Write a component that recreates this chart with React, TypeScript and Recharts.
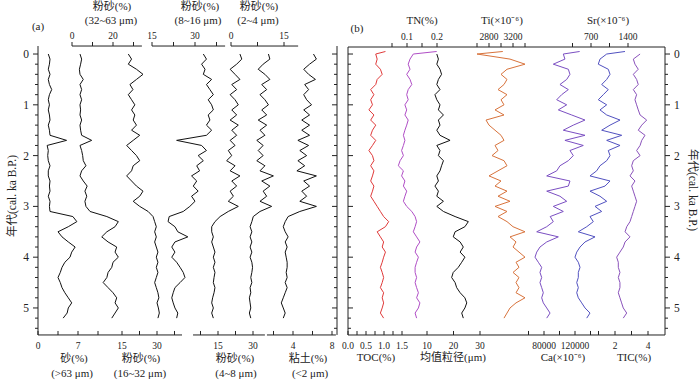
import React from "react";
import { LineChart, Line, XAxis, YAxis, ReferenceLine } from "recharts";

// ages (cal. ka B.P.)
const AGE = [
  -0.05, 0, 0.1, 0.2, 0.3, 0.4, 0.5, 0.6, 0.7, 0.8, 0.9, 1.0, 1.1, 1.2, 1.3, 1.4, 1.5, 1.6, 1.7, 1.8, 1.9,
  2.0, 2.1, 2.2, 2.3, 2.4, 2.5, 2.6, 2.7, 2.8, 2.9, 3.0, 3.1, 3.2, 3.3, 3.4, 3.5, 3.6, 3.7, 3.8, 3.9,
  4.0, 4.1, 4.2, 4.3, 4.4, 4.5, 4.6, 4.7, 4.8, 4.9, 5.0, 5.1, 5.2,
];
const AGE_TICKS = [
  0, 0.2, 0.4, 0.6, 0.8, 1, 1.2, 1.4, 1.6, 1.8, 2, 2.2, 2.4, 2.6, 2.8, 3, 3.2, 3.4, 3.6, 3.8, 4, 4.2,
  4.4, 4.6, 4.8, 5, 5.2, 5.4,
];

// panel (a) grain size fractions (%)
const SAND = [null,
  1.8, 2.1, 2.0, 1.8, 2.1, 1.8, 2.0, 2.4, 2.0, 1.8,
  2.0, 1.8, 2.0, 2.1, 1.8, 2.0, 2.1, 5.0, 1.6, 1.8,
  1.7, 1.8, 2.1, 1.8, 1.8, 2.1, 2.0, 2.1, 1.8, 2.1,
  2.0, 2.1, 6.1, 6.8, 5.3, 3.5, 4.2, 5.3, 6.5, 5.9,
  5.6, 4.7, 4.2, 3.9, 3.5, 3.9, 4.2, 4.7, 5.3, 5.9,
  5.3, 5.1, 4.4];
const SILT_32_63 = [null,
  3.9, 4.7, 4.2, 3.6, 3.9, 5.5, 3.9, 4.7, 3.9, 4.7,
  3.9, 4.2, 3.9, 4.7, 3.9, 4.2, 4.7, 9.6, 3.9, 4.7,
  5.2, 5.5, 6.8, 4.7, 3.9, 5.5, 7.4, 6.3, 7.2, 6.3,
  6.8, 8.8, 17.0, 22.6, 21.0, 17.0, 14.5, 17.6, 21.8, 21.0,
  22.6, 20.0, 19.4, 17.6, 17.0, 15.2, 17.6, 20.0, 21.8, 21.0,
  22.6, 21.0, 19.4];
const SILT_16_32 = [null,
  17.7, 19.1, 17.7, 21.2, 24.0, 21.2, 18.4, 19.7, 17.7, 19.1,
  20.5, 19.1, 20.5, 19.8, 21.2, 19.1, 22.6, 19.8, 17.0, 19.1,
  21.2, 22.6, 19.8, 19.1, 17.0, 19.1, 21.2, 24.0, 22.6, 19.8,
  22.6, 26.2, 28.3, 29.0, 29.7, 29.0, 29.7, 29.0, 29.7, 30.4,
  29.7, 30.4, 29.7, 30.4, 29.7, 29.0, 29.7, 30.4, 30.8, 30.0,
  30.6, 31.0, 30.4];
const SILT_8_16 = [null,
  32.9, 34.0, 32.3, 33.5, 32.9, 35.8, 34.0, 35.2, 36.4, 34.6,
  35.8, 36.4, 34.6, 35.2, 34.0, 35.8, 34.0, 23.6, 32.3, 34.0,
  31.1, 32.9, 30.6, 31.6, 28.8, 30.6, 29.4, 31.1, 28.8, 30.0,
  28.2, 25.9, 21.0, 20.6, 23.0, 24.0, 27.5, 23.0, 21.9, 23.0,
  21.9, 23.6, 24.8, 25.9, 26.5, 24.8, 23.0, 22.4, 21.9, 22.4,
  23.0, 24.0, 23.6];
const SILT_4_8 = [null,
  24.4, 25.2, 23.0, 20.2, 22.3, 24.4, 20.9, 23.0, 20.2, 22.3,
  23.7, 20.9, 23.0, 20.2, 23.7, 20.9, 23.0, 20.2, 22.3, 19.4,
  20.9, 18.7, 22.3, 20.2, 24.4, 20.9, 23.0, 20.2, 21.6, 19.4,
  23.7, 19.4, 15.9, 13.7, 12.3, 12.3, 13.0, 12.3, 13.0, 13.7,
  13.0, 13.7, 13.0, 13.7, 13.3, 13.0, 13.7, 13.3, 12.7, 12.3,
  13.0, 12.3, 13.0];
const SILT_2_4 = [null,
  10.6, 11.0, 9.1, 7.7, 9.6, 11.0, 8.7, 10.1, 8.2, 9.6,
  10.6, 8.7, 10.1, 7.7, 10.1, 8.2, 9.6, 7.3, 9.1, 7.7,
  9.1, 7.3, 9.6, 8.2, 12.0, 8.7, 11.0, 9.1, 10.1, 8.2,
  11.5, 8.2, 6.3, 5.9, 5.4, 5.9, 5.4, 5.9, 5.4, 5.9,
  5.4, 5.9, 6.1, 5.9, 5.6, 5.9, 5.4, 5.6, 5.2, 5.4,
  5.6, 5.2, 5.6];
const CLAY = [null,
  6.1, 6.4, 5.7, 5.1, 5.6, 6.3, 5.2, 5.6, 5.1, 5.4,
  5.9, 5.1, 5.7, 4.9, 5.7, 4.9, 5.7, 4.5, 5.6, 4.7,
  5.4, 4.5, 5.2, 4.4, 6.4, 5.1, 5.7, 4.9, 5.4, 4.7,
  6.4, 4.7, 3.5, 3.2, 3.0, 3.2, 3.5, 3.2, 3.4, 3.2,
  3.3, 3.4, 3.4, 3.3, 3.4, 3.2, 3.4, 3.2, 3.0, 2.8,
  3.0, 3.2, 3.0];

// panel (b) geochemistry
const TOC = [1.04,
  0.77, 0.81, 0.77, 0.90, 0.95, 0.81, 0.77, 0.63, 0.72, 0.63,
  0.68, 0.58, 0.72, 0.63, 0.77, 0.68, 0.63, 0.77, 0.68, 0.58,
  0.68, 0.72, 0.63, 0.72, 0.68, 0.63, 0.72, 0.68, 0.63, 0.72,
  0.81, 0.90, 0.99, 1.13, 1.04, 0.81, 0.90, 0.99, 0.95, 1.04,
  0.99, 0.95, 0.90, 0.95, 0.99, 0.95, 0.90, 0.99, 0.95, 0.99,
  0.95, 0.90, 0.99];
const TN = [0.199,
  0.121, 0.110, 0.104, 0.110, 0.099, 0.110, 0.116, 0.104, 0.099, 0.104,
  0.093, 0.099, 0.093, 0.104, 0.099, 0.093, 0.088, 0.093, 0.088, 0.082,
  0.088, 0.077, 0.071, 0.088, 0.082, 0.093, 0.088, 0.099, 0.093, 0.088,
  0.099, 0.116, 0.127, 0.132, 0.127, 0.121, 0.132, 0.143, 0.132, 0.127,
  0.138, 0.132, 0.127, 0.127, 0.132, 0.127, 0.132, 0.138, 0.132, 0.143,
  0.138, 0.127, 0.132];
const MEAN_GRAIN = [null,
  13.7, 14.3, 13.7, 14.9, 15.5, 14.3, 13.7, 14.9, 13.0, 13.7,
  14.9, 14.3, 16.2, 14.3, 14.9, 13.7, 14.9, 18.7, 13.7, 14.9,
  14.3, 16.2, 15.5, 14.9, 13.7, 14.3, 13.0, 14.3, 13.7, 16.2,
  13.7, 16.2, 20.6, 25.6, 24.3, 20.6, 19.9, 22.5, 23.7, 22.5,
  24.3, 23.1, 21.8, 19.9, 19.3, 20.6, 21.2, 22.5, 24.3, 25.0,
  24.3, 23.1, 23.7];
const TI = [3030,
  2600, 3150, 3400, 3100, 3000, 3100, 3050, 2950, 3100, 3000,
  3050, 2900, 3050, 2750, 2800, 2900, 3000, 3050, 2900, 2950,
  2850, 3050, 3100, 2950, 2800, 3000, 2900, 3100, 2950, 3150,
  2900, 3100, 2950, 3100, 3200, 3400, 3150, 3250, 3200, 3300,
  3400, 3250, 3300, 3200, 3300, 3250, 3300, 3250, 3400, 3250,
  3150, 3100, 3050];
const CA = [126000,
  104900, 107000, 92000, 111400, 113500, 109300, 100600, 111400, 102800, 96400,
  109300, 98500, 115700, 132900, 117800, 104900, 132900, 107000, 130700, 113500,
  117800, 111400, 100600, 96400, 83500, 113500, 111400, 83500, 100600, 109300,
  92000, 104900, 88000, 92000, 83500, 70600, 98500, 83500, 74800, 70600,
  68400, 72700, 77000, 74800, 77000, 74800, 77000, 79100, 77000, 79100,
  83500, 87800, 83500];
const SR = [1343,
  997, 870, 838, 1027, 1060, 997, 902, 1027, 933, 838,
  997, 870, 997, 1249, 1060, 902, 1281, 997, 1249, 1027,
  1060, 997, 870, 807, 681, 1060, 965, 681, 870, 997,
  776, 902, 681, 744, 619, 460, 776, 587, 492, 430,
  397, 460, 492, 460, 460, 430, 460, 430, 460, 524,
  587, 681, 619];
const TIC = [null,
  3.52, 3.11, 3.21, 3.41, 3.11, 3.31, 3.41, 3.11, 3.31, 3.21,
  3.31, 3.41, 3.52, 3.92, 3.62, 3.41, 3.82, 3.62, 3.52, 3.31,
  3.52, 3.11, 3.01, 3.11, 2.91, 3.21, 3.01, 3.11, 3.21, 3.31,
  3.21, 3.11, 3.01, 2.91, 2.71, 2.61, 2.91, 2.61, 2.50, 2.30,
  2.10, 2.20, 2.20, 2.30, 2.20, 2.30, 2.30, 2.20, 2.30, 2.40,
  2.50, 2.71, 2.50];

const data = AGE.map((age, i) => ({
  age,
  sand: SAND[i], s63: SILT_32_63[i], s32: SILT_16_32[i], s16: SILT_8_16[i],
  s8: SILT_4_8[i], s4: SILT_2_4[i], clay: CLAY[i],
  toc: TOC[i], tn: TN[i], mgs: MEAN_GRAIN[i], ti: TI[i], ca: CA[i], sr: SR[i], tic: TIC[i],
}));

const FONT = "'Liberation Serif', 'Times New Roman', 'Noto Sans CJK SC', serif";
const INK = "#222";

// layout (page px)
const Y0 = 54;
const Y5 = 308;
const BOTTOM = 335;
const A = { left: 38, right: 337, top: 46 };
const B = { x: 340, left: 348, right: 665, top: 47 };

const pxPerKa = (Y5 - Y0) / 5;
const ageDomain = (top: number) => [(top - Y0) / pxPerKa, (BOTTOM - Y0) / pxPerKa];

function xDomain(s: any, left: number, right: number) {
  const k = (s.p1 - s.p0) / (s.v1 - s.v0);
  return [s.v0 - (s.p0 - left) / k, s.v0 + (right - s.p0) / k];
}

type Series = {
  id: string; side: "top" | "bottom"; p0: number; v0: number; p1: number; v1: number;
  ticks: number[]; labels: number[]; seg?: number[]; color: string; fmt?: (v: number) => string; box?: boolean;
};

const PANEL_A: Series[] = [
  { id: "sand", side: "bottom", p0: 38, v0: 0, p1: 78, v1: 7, ticks: [0, 3.5, 7, 10.5], labels: [0, 7], seg: [0, 25.2], color: "#111" },
  { id: "s63", side: "top", p0: 72, v0: 0, p1: 113, v1: 20, ticks: [0, 10, 20, 30], labels: [0, 20], seg: [0, 34.1], color: "#111" },
  { id: "s32", side: "bottom", p0: 122, v0: 15, p1: 157, v1: 30, ticks: [15, 22.5, 30, 37.5], labels: [15, 30], color: "#111" },
  { id: "s16", side: "top", p0: 152, v0: 15, p1: 195, v1: 30, ticks: [15, 22.5, 30, 37.5], labels: [15, 30], seg: [15, 40.5], color: "#111" },
  { id: "s8", side: "bottom", p0: 218, v0: 15, p1: 253, v1: 30, ticks: [7.5, 15, 22.5, 30], labels: [15, 30], seg: [4.3, 35.1], color: "#111" },
  { id: "s4", side: "top", p0: 231, v0: 0, p1: 284, v1: 15, ticks: [0, 7.5, 15], labels: [0, 15], seg: [0, 19], color: "#111" },
  { id: "clay", side: "bottom", p0: 293, v0: 4, p1: 332, v1: 8, ticks: [2, 4, 6, 8], labels: [4, 8], seg: [1.33, 8.4], color: "#111" },
];

const PANEL_B: Series[] = [
  { id: "toc", side: "bottom", p0: 348, v0: 0, p1: 402, v1: 1.5, ticks: [0, 0.25, 0.5, 0.75, 1, 1.25, 1.5], labels: [0, 0.5, 1, 1.5], fmt: (v) => v.toFixed(1), color: "#e03a3a", box: true },
  { id: "tn", side: "top", p0: 407, v0: 0.1, p1: 437, v1: 0.2, ticks: [0.05, 0.1, 0.15, 0.2], labels: [0.1, 0.2], color: "#b04ec6", box: true },
  { id: "mgs", side: "bottom", p0: 427, v0: 10, p1: 480, v1: 30, ticks: [10, 20, 30], labels: [10, 20, 30], color: "#111" },
  { id: "ti", side: "top", p0: 489, v0: 2800, p1: 513, v1: 3200, ticks: [2600, 2800, 3000, 3200, 3400], labels: [2800, 3200], color: "#d8733c" },
  { id: "ca", side: "bottom", p0: 544, v0: 80000, p1: 575, v1: 120000, ticks: [60000, 80000, 100000, 120000, 140000], labels: [80000, 120000], color: "#7b4fc2" },
  { id: "sr", side: "top", p0: 591, v0: 700, p1: 628, v1: 1400, ticks: [350, 700, 1050, 1400], labels: [700, 1400], color: "#5151c0" },
  { id: "tic", side: "bottom", p0: 615, v0: 2, p1: 648, v1: 4, ticks: [1, 2, 3, 4], labels: [2, 4], color: "#8a52bb" },
];

function XTick(props: any) {
  const { x, y, payload, s } = props;
  const v = payload.value;
  const show = s.labels.includes(v);
  return (
    <g>
      <line x1={x} x2={x} y1={y} y2={y - 4} stroke={INK} strokeWidth={1} />
      {show && (
        <text x={x} y={s.side === "top" ? y - 7 : y + 14} textAnchor="middle" fontSize={9.5} fontFamily={FONT} fill={INK}>
          {s.fmt ? s.fmt(v) : v}
        </text>
      )}
    </g>
  );
}

function YTick(props: any) {
  const { x, y, payload, dir, label } = props;
  const v = payload.value;
  const major = Math.abs(v - Math.round(v)) < 1e-6;
  const len = major ? 5 : 3;
  return (
    <g>
      <line x1={x} x2={x + dir * len} y1={y} y2={y} stroke={INK} strokeWidth={1} />
      {label && major && (
        <text x={x + dir * (len + 4)} y={y + 4} textAnchor={dir < 0 ? "end" : "start"} fontSize={11.5} fontFamily={FONT} fill={INK}>
          {Math.round(v)}
        </text>
      )}
    </g>
  );
}

function seriesAxes(list: Series[], left: number, right: number) {
  return list.map((s) => (
    <XAxis
      key={"x" + s.id}
      xAxisId={s.id}
      type="number"
      orientation={s.side}
      domain={xDomain(s, left, right)}
      allowDataOverflow
      ticks={s.ticks}
      interval={0}
      height={0.01}
      tickSize={0}
      tickMargin={0}
      tickLine={false}
      axisLine={s.box ? { stroke: INK } : false}
      tick={(p: any) => <XTick {...p} s={s} />}
    />
  ));
}

function seriesLines(list: Series[]) {
  return list.map((s) => (
    <Line
      key={"l" + s.id}
      xAxisId={s.id}
      yAxisId="L"
      dataKey={s.id}
      type="linear"
      stroke={s.color}
      strokeWidth={1}
      dot={false}
      isAnimationActive={false}
    />
  ));
}

function Title({ x, y, children, size = 11 }: any) {
  return (
    <text x={x} y={y} textAnchor="middle" fontSize={size} fontFamily={FONT} fill={INK}>
      {children}
    </text>
  );
}

export default function App() {
  const domA = ageDomain(A.top);
  const domB = ageDomain(B.top);
  return (
    <div style={{ position: "absolute", left: 0, top: 0, width: 700, height: 382, background: "#fff" }}>
      <div style={{ position: "absolute", left: 0, top: 0 }}>
        <LineChart width={350} height={382} data={data} layout="vertical" margin={{ top: A.top, bottom: 382 - BOTTOM, left: 0, right: 350 - A.right - 1 }}>
          <YAxis yAxisId="L" type="number" dataKey="age" domain={domA} allowDataOverflow ticks={AGE_TICKS} interval={0}
            width={A.left} tickSize={0} tickMargin={0} tickLine={false} axisLine={{ stroke: INK }}
            tick={(p: any) => <YTick {...p} dir={-1} label />} />
          <YAxis yAxisId="R" orientation="right" type="number" dataKey="age" domain={domA} allowDataOverflow ticks={AGE_TICKS} interval={0}
            width={1} tickSize={0} tickMargin={0} tickLine={false} axisLine={{ stroke: INK }}
            tick={(p: any) => <YTick {...p} dir={-1} />} />
          {seriesAxes(PANEL_A, A.left, A.right)}
          {PANEL_A.filter((s) => s.seg).map((s) => (
            <ReferenceLine key={"seg" + s.id} xAxisId={s.id} yAxisId="L" ifOverflow="visible" stroke={INK}
              segment={[{ x: s.seg![0], y: s.side === "top" ? domA[0] : domA[1] }, { x: s.seg![1], y: s.side === "top" ? domA[0] : domA[1] }]} />
          ))}
          {seriesLines(PANEL_A)}
        </LineChart>
      </div>
      <div style={{ position: "absolute", left: B.x, top: 0 }}>
        <LineChart width={700 - B.x} height={382} data={data} layout="vertical" margin={{ top: B.top, bottom: 382 - BOTTOM, left: 0, right: 0 }}>
          <YAxis yAxisId="L" type="number" dataKey="age" domain={domB} allowDataOverflow ticks={AGE_TICKS} interval={0}
            width={B.left - B.x} tickSize={0} tickMargin={0} tickLine={false} axisLine={{ stroke: INK }}
            tick={(p: any) => <YTick {...p} dir={1} />} />
          <YAxis yAxisId="R" orientation="right" type="number" dataKey="age" domain={domB} allowDataOverflow ticks={AGE_TICKS} interval={0}
            width={700 - B.right} tickSize={0} tickMargin={0} tickLine={false} axisLine={{ stroke: INK }}
            tick={(p: any) => <YTick {...p} dir={1} label />} />
          {seriesAxes(PANEL_B, B.left, B.right)}
          {seriesLines(PANEL_B)}
        </LineChart>
      </div>
      <svg width={700} height={382} style={{ position: "absolute", left: 0, top: 0, pointerEvents: "none" }}>
        <Title x={38} y={30}>(a)</Title>
        <Title x={112} y={10}>粉砂(%)</Title>
        <Title x={111} y={24}>(32~63 μm)</Title>
        <Title x={200} y={10}>粉砂(%)</Title>
        <Title x={198} y={24}>(8~16 μm)</Title>
        <Title x={259} y={10}>粉砂(%)</Title>
        <Title x={258} y={24}>(2~4 μm)</Title>
        <Title x={74} y={362}>砂(%)</Title>
        <Title x={72} y={377}>(&gt;63 μm)</Title>
        <Title x={141} y={362}>粉砂(%)</Title>
        <Title x={140} y={377}>(16~32 μm)</Title>
        <Title x={235} y={362}>粉砂(%)</Title>
        <Title x={236} y={377}>(4~8 μm)</Title>
        <Title x={308} y={362}>粘土(%)</Title>
        <Title x={310} y={377}>(&lt;2 μm)</Title>
        <Title x={357} y={32}>(b)</Title>
        <Title x={422} y={24}>TN(%)</Title>
        <Title x={502} y={24}>Ti(×10⁻⁶)</Title>
        <Title x={608} y={24}>Sr(×10⁻⁶)</Title>
        <Title x={376} y={361}>TOC(%)</Title>
        <Title x={453} y={361}>均值粒径(μm)</Title>
        <Title x={563} y={361}>Ca(×10⁻⁶)</Title>
        <Title x={634} y={361}>TIC(%)</Title>
        <text transform="translate(16,196) rotate(-90)" textAnchor="middle" fontSize={11.5} fontFamily={FONT} fill={INK}>
          年代(cal. ka B.P.)
        </text>
        <text transform="translate(689,190) rotate(90)" textAnchor="middle" fontSize={11.5} fontFamily={FONT} fill={INK}>
          年代(cal. ka B.P.)
        </text>
      </svg>
    </div>
  );
}
